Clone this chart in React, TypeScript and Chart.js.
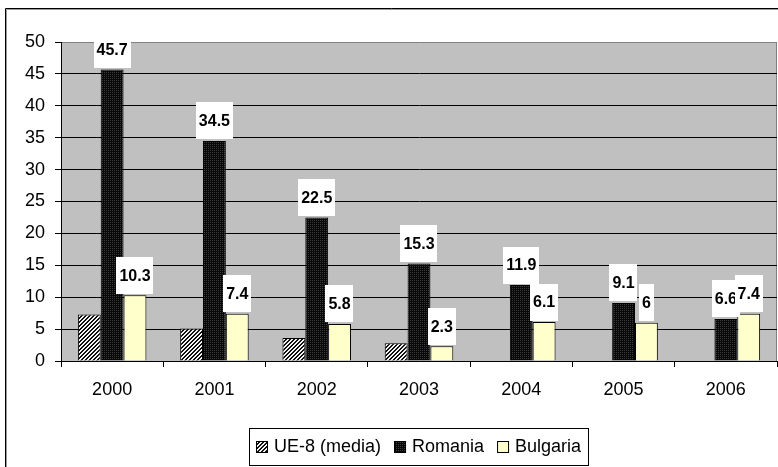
import React, { useEffect, useRef } from 'react';
import { Chart, registerables } from 'chart.js';

Chart.register(...registerables);

const categories = ['2000', '2001', '2002', '2003', '2004', '2005', '2006'];
const seriesNames = ['UE-8 (media)', 'Romania', 'Bulgaria'];
const ue8Values = [7.3, 5.1, 3.6, 2.8, null, null, null];
const romaniaValues = [45.7, 34.5, 22.5, 15.3, 11.9, 9.1, 6.6];
const bulgariaValues = [10.3, 7.4, 5.8, 2.3, 6.1, 6, 7.4];
const yMin = 0;
const yMax = 50;
const yStep = 5;
const labeledSeries = [1, 2];

const FAMILY = '"Liberation Sans", Arial, sans-serif';

export default function App() {
  const ref = useRef<HTMLCanvasElement>(null);

  useEffect(() => {
    const canvas = ref.current!;
    const ctx0 = canvas.getContext('2d')!;

    const makePattern = (size: number, draw: (g: CanvasRenderingContext2D) => void) => {
      const c = document.createElement('canvas');
      c.width = size;
      c.height = size;
      const g = c.getContext('2d')!;
      draw(g);
      return ctx0.createPattern(c, 'repeat')!;
    };

    const hatch = makePattern(4, (g) => {
      g.fillStyle = '#f4f4f4';
      g.fillRect(0, 0, 4, 4);
      g.fillStyle = '#111';
      for (let x = 0; x < 4; x++)
        for (let y = 0; y < 4; y++)
          if ((x + y) % 4 < 2) g.fillRect(x, y, 1, 1);
    });
    const dotted = makePattern(2, (g) => {
      g.fillStyle = '#080808';
      g.fillRect(0, 0, 2, 2);
      g.fillStyle = '#3c3c3c';
      g.fillRect(0, 0, 1, 1);
    });
    const fills: any[] = [hatch, dotted, '#FFFFCC'];

    const framePlugin = {
      id: 'frame',
      beforeDraw(chart: any) {
        const { ctx, chartArea: a } = chart;
        ctx.save();
        ctx.fillStyle = '#fff';
        ctx.fillRect(0, 0, chart.width, chart.height);
        ctx.lineWidth = 1;
        ctx.strokeStyle = '#000';
        ctx.beginPath();
        ctx.moveTo(5.5, chart.height);
        ctx.lineTo(5.5, 8.5);
        ctx.lineTo(chart.width, 8.5);
        ctx.stroke();
        ctx.strokeStyle = '#9a9a9a';
        ctx.beginPath();
        ctx.moveTo(6.5, chart.height);
        ctx.lineTo(6.5, 9.5);
        ctx.lineTo(chart.width, 9.5);
        ctx.stroke();
        ctx.fillStyle = '#C0C0C0';
        ctx.fillRect(a.left, a.top, a.right - a.left, a.bottom - a.top);
        ctx.strokeStyle = '#808080';
        ctx.beginPath();
        ctx.moveTo(a.right - 0.5, a.top);
        ctx.lineTo(a.right - 0.5, a.bottom);
        ctx.stroke();
        ctx.restore();
      },
    };

    const labelPlugin = {
      id: 'valueLabels',
      afterDatasetsDraw(chart: any) {
        const ctx = chart.ctx;
        ctx.save();
        ctx.font = `bold 16px ${FAMILY}`;
        ctx.textAlign = 'center';
        ctx.textBaseline = 'middle';
        for (const di of labeledSeries) {
          const meta = chart.getDatasetMeta(di);
          const data = chart.data.datasets[di].data;
          meta.data.forEach((bar: any, i: number) => {
            const v = data[i];
            if (v == null) return;
            const txt = String(v);
            const w = ctx.measureText(txt).width + 6;
            const cy = bar.y - 20;
            const top = Math.max(cy - 18.5, chart.chartArea.top - 1);
            const bottom = cy + 18.5;
            ctx.fillStyle = '#fff';
            ctx.fillRect(Math.round(bar.x - w / 2), Math.round(top), Math.round(w), Math.round(bottom - top));
            ctx.fillStyle = '#000';
            ctx.fillText(txt, bar.x, cy + 1);
          });
        }
        ctx.restore();
      },
    };

    const legendPlugin = {
      id: 'boxLegend',
      afterDraw(chart: any) {
        const ctx = chart.ctx;
        const a = chart.chartArea;
        ctx.save();
        ctx.font = `18px ${FAMILY}`;
        const items = chart.data.datasets.map((ds: any) => ({ label: ds.label, fill: ds.backgroundColor }));
        const mk = 12, mGap = 6, iGap = 13, padL = 7, padR = 7;
        let total = padL + padR;
        items.forEach((it: any, k: number) => {
          total += mk + mGap + ctx.measureText(it.label).width + (k < items.length - 1 ? iGap : 0);
        });
        const left = Math.round((a.left + a.right) / 2 - total / 2);
        const top = 428;
        const h = 37;
        ctx.fillStyle = '#fff';
        ctx.fillRect(left, top, total, h);
        ctx.strokeStyle = '#000';
        ctx.lineWidth = 1;
        ctx.strokeRect(left + 0.5, top + 0.5, Math.round(total), h);
        let x = left + padL;
        const cy = top + h / 2 + 0.5;
        ctx.textAlign = 'left';
        ctx.textBaseline = 'middle';
        items.forEach((it: any) => {
          ctx.fillStyle = it.fill;
          ctx.fillRect(x, Math.round(cy - mk / 2), mk, mk);
          ctx.strokeStyle = '#000';
          ctx.strokeRect(x + 0.5, Math.round(cy - mk / 2) + 0.5, mk - 1, mk - 1);
          x += mk + mGap;
          ctx.fillStyle = '#000';
          ctx.fillText(it.label, x, cy);
          x += ctx.measureText(it.label).width + iGap;
        });
        ctx.restore();
      },
    };

    const seriesValues = [ue8Values, romaniaValues, bulgariaValues];

    const chart = new Chart(canvas, {
      type: 'bar',
      data: {
        labels: categories,
        datasets: seriesNames.map((name, k) => ({
          label: name,
          data: seriesValues[k] as any,
          backgroundColor: fills[k],
          borderColor: '#000',
          borderWidth: 1,
          categoryPercentage: 0.67,
          barPercentage: 1,
        })),
      },
      options: {
        animation: false,
        responsive: false,
        devicePixelRatio: 1,
        layout: { padding: { left: 0, top: 42, right: 1, bottom: 0 } },
        plugins: {
          legend: { display: false },
          tooltip: { enabled: false },
          title: { display: false },
        },
        scales: {
          x: {
            grid: {
              offset: true,
              drawOnChartArea: false,
              drawTicks: true,
              tickLength: 6,
              color: '#000',
              tickColor: '#000',
            },
            border: { display: true, color: '#000', width: 1 },
            ticks: {
              font: { size: 18, family: FAMILY },
              color: '#000',
              padding: 12,
              maxRotation: 0,
              autoSkip: false,
            },
            afterFit: (s: any) => {
              s.height = 106;
            },
          },
          y: {
            min: yMin,
            max: yMax,
            ticks: {
              stepSize: yStep,
              font: { size: 18, family: FAMILY },
              color: '#000',
              padding: 10,
            },
            grid: {
              color: (c: any) => (c.tick && c.tick.value === yMax ? '#808080' : '#000'),
              tickColor: '#000',
              tickLength: 6,
              drawTicks: true,
            },
            border: { display: true, color: '#000', width: 1 },
            afterFit: (s: any) => {
              s.width = 61;
            },
          },
        },
      },
      plugins: [framePlugin, labelPlugin, legendPlugin],
    } as any);

    return () => chart.destroy();
  }, []);

  return (
    <div style={{ position: 'fixed', left: 0, top: 0, width: 778, height: 467, background: '#fff' }}>
      <canvas ref={ref} width={778} height={467} style={{ display: 'block', width: 778, height: 467 }} />
    </div>
  );
}
